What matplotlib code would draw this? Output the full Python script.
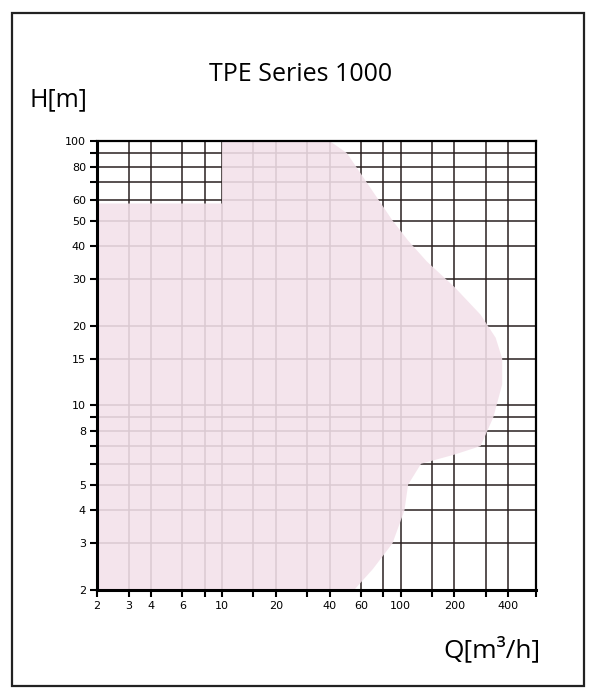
import matplotlib
matplotlib.use("Agg")
import matplotlib.pyplot as plt
import matplotlib.patches as patches
from matplotlib.ticker import FixedLocator, NullFormatter

# ------------------------------------------------------------
# data
# ------------------------------------------------------------
# operating envelope of the pump series (Q in m3/h, H in m)
q_env = [2, 2, 10, 10, 40, 50, 60, 75, 90, 110, 140, 200, 280, 340, 370,
         370, 330, 280, 200, 130, 110, 105, 90, 70, 55]
h_env = [2, 58, 58, 100, 100, 90, 75, 60, 50, 42, 35, 28, 22, 18, 15,
         12, 9, 7, 6.5, 6, 5, 4, 3, 2.4, 2]

x_labeled = [2, 3, 4, 6, 10, 20, 40, 60, 100, 200, 400]
x_unlabeled = [8, 15, 30, 80, 150, 300, 570]
y_labeled = [2, 3, 4, 5, 8, 10, 15, 20, 30, 40, 50, 60, 80, 100]
y_unlabeled = [6, 7, 9, 70, 90]

title = "TPE Series 1000"
xlabel = "Q[m\u00b3/h]"
ylabel = "H[m]"

# ------------------------------------------------------------
fig = plt.figure(figsize=(5.92, 6.98), dpi=100)
ax = fig.add_axes([0.164, 0.155, 0.741, 0.643])
ax.set_xscale("log")
ax.set_yscale("log")
ax.set_xlim(2, 570)
ax.set_ylim(2, 100)

# grid lines
for x in x_labeled + x_unlabeled:
    if 2 < x < 570:
        ax.axvline(x, color="#2a2020", linewidth=1.1, zorder=1)
for y in y_labeled + y_unlabeled:
    if 2 < y < 100:
        ax.axhline(y, color="#2a2020", linewidth=1.1, zorder=1)

# envelope (pale band, lighter inside)
ax.fill(q_env, h_env, color="#f3e1ea", alpha=0.88, linewidth=0, zorder=2)

# ticks
ax.xaxis.set_major_locator(FixedLocator(x_labeled))
ax.xaxis.set_major_formatter(plt.FixedFormatter([str(v) for v in x_labeled]))
ax.xaxis.set_minor_locator(FixedLocator(x_unlabeled))
ax.xaxis.set_minor_formatter(NullFormatter())
ax.yaxis.set_major_locator(FixedLocator(y_labeled))
ax.yaxis.set_major_formatter(plt.FixedFormatter([str(v) for v in y_labeled]))
ax.yaxis.set_minor_locator(FixedLocator(y_unlabeled))
ax.yaxis.set_minor_formatter(NullFormatter())
ax.tick_params(which="both", direction="out", length=5, width=1.5,
               color="black", labelsize=8, pad=3)
ax.tick_params(axis="x", which="both", top=False)
ax.tick_params(axis="y", which="both", right=False)

for side in ["left", "bottom"]:
    ax.spines[side].set_linewidth(2.2)
for side in ["top", "right"]:
    ax.spines[side].set_linewidth(1.6)

# texts
fig.text(0.508, 0.893, title, ha="center", va="center", fontsize=18,
         family="Open Sans")
fig.text(0.05, 0.857, ylabel, ha="left", va="center", fontsize=18,
         family="Open Sans")
fig.text(0.913, 0.069, xlabel, ha="right", va="center", fontsize=19,
         family="Open Sans")

# card frame
fig.patches.append(patches.Rectangle((0.021, 0.017), 0.965, 0.964,
                                     transform=fig.transFigure, fill=False,
                                     edgecolor="#222222", linewidth=1.6))

fig.savefig("out.png", dpi=100)
plt.close()
